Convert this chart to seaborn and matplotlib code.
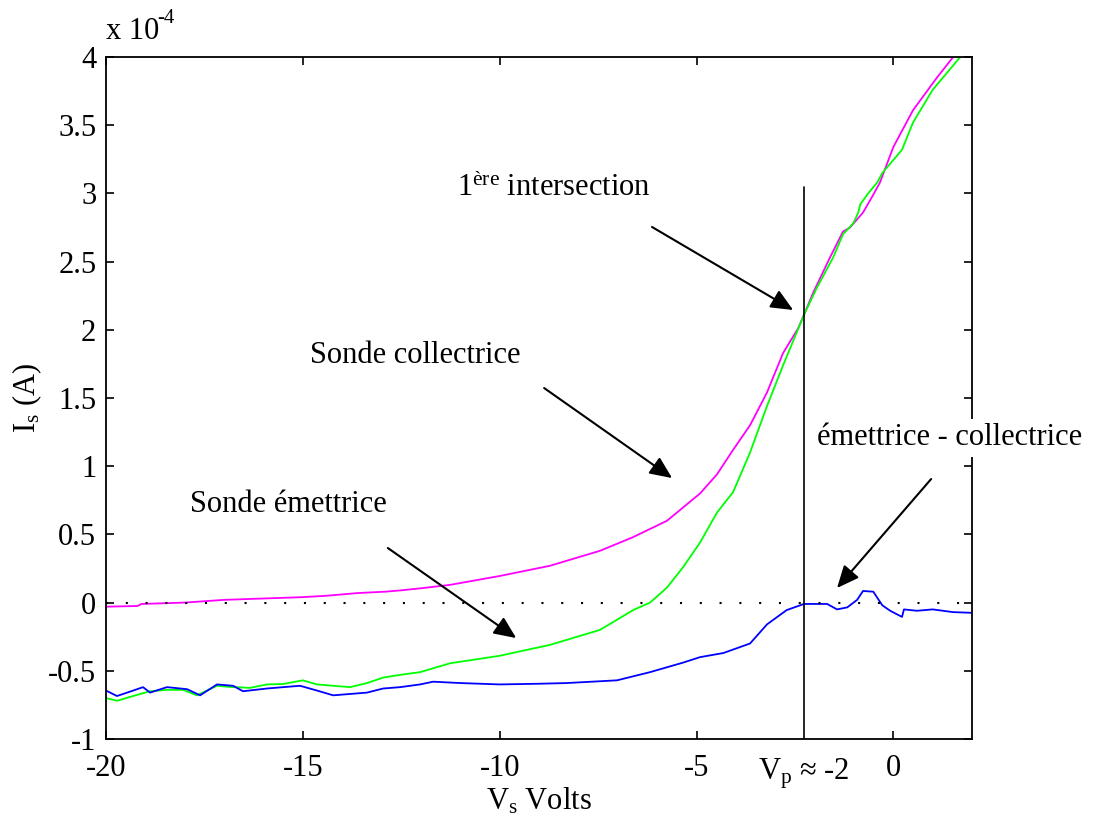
"""
Caractéristiques I(V) des sondes collectrice et émettrice
et de leur différence, avec repérage du potentiel plasma Vp.
"""

import matplotlib
matplotlib.use("Agg")
import matplotlib.pyplot as plt
from matplotlib.ticker import FormatStrFormatter
import seaborn as sns

# Sonde collectrice (magenta), courant en unités de 1e-4 A
v_coll = [-20.0, -19.2, -19.1, -18.0, -17.0, -16.0, -15.0, -14.4, -13.6, -12.9,
          -12.5, -12.0, -11.26, -10.0, -8.72, -7.45, -6.61, -5.75, -4.91, -4.48,
          -4.07, -3.64, -3.21, -2.8, -2.42, -2.27, -2.04, -1.61, -1.28, -1.1,
          -0.77, -0.51, -0.34, 0.0, 0.5, 1.11, 1.52, 2.0]
i_coll = [-0.03, -0.025, -0.01, 0.0, 0.02, 0.03, 0.04, 0.05, 0.07, 0.08,
          0.09, 0.105, 0.13, 0.195, 0.27, 0.38, 0.48, 0.6, 0.8, 0.94,
          1.12, 1.3, 1.54, 1.83, 2.01, 2.11, 2.27, 2.53, 2.72, 2.75,
          2.86, 2.99, 3.08, 3.34, 3.61, 3.85, 4.0, 4.25]

# Sonde émettrice (vert)
v_emet = [-20.0, -19.72, -19.31, -18.88, -18.45, -18.04, -17.69, -17.18, -16.77, -16.34,
          -15.91, -15.5, -15.0, -14.64, -14.23, -13.8, -13.37, -12.96, -12.53, -12.02,
          -11.26, -10.0, -8.72, -7.45, -6.61, -6.18, -5.75, -5.34, -4.91, -4.48,
          -4.07, -3.64, -3.21, -2.8, -2.27, -1.94, -1.53, -1.28, -1.02, -0.89,
          -0.84, -0.64, -0.41, -0.28, 0.22, 0.5, 1.0, 1.7, 2.0]
i_emet = [-0.70, -0.72, -0.685, -0.65, -0.64, -0.64, -0.68, -0.61, -0.62, -0.625,
          -0.60, -0.597, -0.57, -0.60, -0.61, -0.62, -0.59, -0.55, -0.53, -0.51,
          -0.445, -0.39, -0.31, -0.20, -0.055, 0.0, 0.11, 0.26, 0.44, 0.66,
          0.81, 1.10, 1.44, 1.74, 2.11, 2.31, 2.53, 2.70, 2.78, 2.86,
          2.92, 3.0, 3.08, 3.15, 3.32, 3.52, 3.76, 4.0, 4.12]

# Différence émettrice - collectrice (bleu)
v_diff = [-20.0, -19.72, -19.31, -19.06, -18.88, -18.45, -17.94, -17.61, -17.18, -16.77,
          -16.52, -15.91, -15.5, -15.07, -14.64, -14.23, -13.8, -13.37, -12.96, -12.53,
          -12.02, -11.69, -11.0, -10.0, -9.0, -8.3, -7.02, -6.18, -5.34, -4.91,
          -4.32, -3.64, -3.21, -2.71, -2.27, -1.68, -1.43, -1.17, -0.92, -0.77,
          -0.51, -0.28, -0.08, 0.22, 0.27, 0.6, 1.0, 1.52, 2.0]
i_diff = [-0.645, -0.685, -0.645, -0.62, -0.66, -0.62, -0.635, -0.68, -0.60, -0.61,
          -0.65, -0.63, -0.62, -0.61, -0.645, -0.68, -0.67, -0.66, -0.63, -0.62,
          -0.60, -0.58, -0.59, -0.60, -0.595, -0.59, -0.57, -0.51, -0.44, -0.40,
          -0.37, -0.30, -0.16, -0.055, -0.01, -0.01, -0.05, -0.035, 0.02, 0.085,
          0.08, -0.02, -0.06, -0.105, -0.05, -0.06, -0.05, -0.07, -0.075]

v_plasma = -2.28
vline_top = 3.05
x_ticks = [-20, -15, -10, -5, 0]
y_ticks = [-1, -0.5, 0, 0.5, 1, 1.5, 2, 2.5, 3, 3.5, 4]

sns.set_style("ticks")
plt.rcParams["font.family"] = ["Liberation Serif", "DejaVu Serif"]
plt.rcParams["mathtext.fontset"] = "custom"
plt.rcParams["mathtext.rm"] = "Liberation Serif"
plt.rcParams["mathtext.it"] = "Liberation Serif:italic"
plt.rcParams["axes.unicode_minus"] = False
plt.rcParams["text.color"] = "black"
plt.rcParams["axes.labelcolor"] = "black"

fs = 22
fig = plt.figure(figsize=(11.03, 8.17), dpi=100)
ax = fig.add_axes([0.0961, 0.0955, 0.7852, 0.8347])

sns.lineplot(x=v_coll, y=i_coll, color="#ff00ff", lw=1.3, ax=ax, estimator=None, sort=False)
sns.lineplot(x=v_emet, y=i_emet, color="#00ff00", lw=1.3, ax=ax, estimator=None, sort=False)
sns.lineplot(x=v_diff, y=i_diff, color="#0000ff", lw=1.3, ax=ax, estimator=None, sort=False)

# zéro en pointillés et potentiel plasma
ax.axhline(0, color="k", lw=1.5, linestyle=(0, (1, 8.5)))
ax.plot([v_plasma, v_plasma], [-1, vline_top], color="k", lw=1.2)

ax.set_xlim(-20, 2)
ax.set_ylim(-1, 4)
ax.set_xticks(x_ticks)
ax.set_yticks(y_ticks)
ax.yaxis.set_major_formatter(FormatStrFormatter("%g"))
ax.tick_params(direction="in", top=True, right=True, length=6, width=1.2,
               labelsize=fs, colors="k")
ax.tick_params(axis="x", pad=11)
ax.tick_params(axis="y", pad=7)
for s in ax.spines.values():
    s.set_visible(True)
    s.set_linewidth(1.3)
    s.set_color("k")

ax.set_xlabel(r"V$_\mathrm{s}$ Volts", fontsize=fs, labelpad=2)
ax.set_ylabel(r"I$_\mathrm{s}$ (A)", fontsize=fs, labelpad=3)

# facteur d'échelle façon MATLAB, exposant avec tiret simple
ax.text(0.0, 1.016, "x 10", transform=ax.transAxes, fontsize=fs,
        ha="left", va="bottom")
ax.text(0.0595, 1.042, "-4", transform=ax.transAxes, fontsize=15,
        ha="left", va="bottom")
ax.text(v_plasma, -0.060, r"V$_\mathrm{p}$ ≈ -2", transform=ax.get_xaxis_transform(),
        fontsize=fs, ha="center", va="baseline")

# annotations et flèches
arrow = dict(arrowstyle="-|>,head_length=0.9,head_width=0.4", color="k", lw=1.5,
             mutation_scale=15, shrinkA=0, shrinkB=0)
ax.text(-11.08, 3.04, r"1$^{\mathrm{ère}}$ intersection", fontsize=fs, va="center")
ax.annotate("", xy=(-2.545, 2.145), xytext=(-6.13, 2.754), arrowprops=arrow)
ax.text(-14.82, 1.815, "Sonde collectrice", fontsize=fs, va="center")
ax.annotate("", xy=(-5.62, 0.913), xytext=(-8.87, 1.573), arrowprops=arrow)
ax.text(-17.87, 0.716, "Sonde émettrice", fontsize=fs, va="center")
ax.annotate("", xy=(-9.58, -0.26), xytext=(-12.84, 0.40), arrowprops=arrow)
ax.text(-1.94, 1.207, "émettrice - collectrice", fontsize=fs, va="center",
        clip_on=False, zorder=5,
        bbox=dict(facecolor="white", edgecolor="none", pad=3))
ax.annotate("", xy=(-1.43, 0.107), xytext=(0.96, 0.906), arrowprops=arrow)

fig.savefig("out.png", dpi=100, facecolor="white")
